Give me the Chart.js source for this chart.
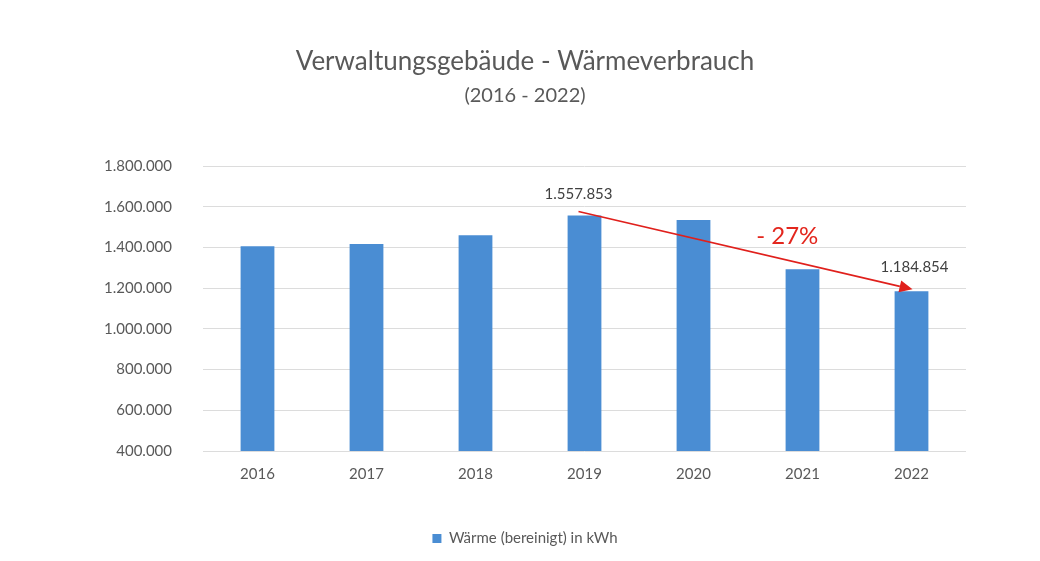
<!DOCTYPE html>
<html>
<head>
<meta charset="utf-8">
<script src="https://cdn.jsdelivr.net/npm/chart.js@4.4.1/dist/chart.umd.min.js"></script>
<style>
  html, body { margin: 0; padding: 0; background: #ffffff; }
  #wrap { width: 1040px; height: 561px; }
</style>
</head>
<body>
<div id="wrap"><canvas id="waermeChart" width="1040" height="561"></canvas></div>
<script>
const years = ['2016', '2017', '2018', '2019', '2020', '2021', '2022'];
const waerme = [1407000, 1417000, 1461000, 1557853, 1535000, 1294000, 1184854];
const yTicks = [400000, 600000, 800000, 1000000, 1200000, 1400000, 1600000, 1800000];
const seriesLabel = 'Wärme (bereinigt) in kWh';
const titleText = 'Verwaltungsgebäude - Wärmeverbrauch';
const subtitleText = '(2016 - 2022)';
const changeText = '- 27%';

const fontFamily = 'Lato, "Open Sans", sans-serif';
const textGray = '#595959';

// German number format: 1.557.853
function fmt(v) {
    return String(Math.round(v)).replace(/\B(?=(\d{3})+(?!\d))/g, '.');
}

// draws the two value labels, the red trend arrow and the percentage
const trendPlugin = {
    id: 'trend',
    afterDatasetsDraw(chart) {
        const c = chart.ctx;
        const x = chart.scales.x, y = chart.scales.y;
        const i1 = 3, i2 = 6;
        const step = x.getPixelForValue(1) - x.getPixelForValue(0);

        c.save();
        c.font = '15px ' + fontFamily;
        c.fillStyle = '#404040';
        c.textAlign = 'center';
        c.textBaseline = 'middle';
        c.fillText(fmt(waerme[i1]), x.getPixelForValue(i1) - 6, y.getPixelForValue(waerme[i1]) - 21);
        c.fillText(fmt(waerme[i2]), x.getPixelForValue(i2) + 3, y.getPixelForValue(waerme[i2]) - 24);

        // arrow
        const x1 = x.getPixelForValue(i1) - 6, y1 = y.getPixelForValue(waerme[i1]) - 4;
        const x2 = x.getPixelForValue(i2) + 1, y2 = y.getPixelForValue(waerme[i2]) - 2;
        const ang = Math.atan2(y2 - y1, x2 - x1);
        const head = 13, half = 6;
        c.strokeStyle = '#e0201c';
        c.fillStyle = '#e0201c';
        c.lineWidth = 1.6;
        c.beginPath();
        c.moveTo(x1, y1);
        c.lineTo(x2 - head * Math.cos(ang), y2 - head * Math.sin(ang));
        c.stroke();
        c.beginPath();
        c.moveTo(x2, y2);
        c.lineTo(x2 - head * Math.cos(ang) + half * Math.sin(ang), y2 - head * Math.sin(ang) - half * Math.cos(ang));
        c.lineTo(x2 - head * Math.cos(ang) - half * Math.sin(ang), y2 - head * Math.sin(ang) + half * Math.cos(ang));
        c.closePath();
        c.fill();

        // percentage
        c.font = '24px ' + fontFamily;
        c.fillStyle = '#e3261d';
        c.fillText(changeText, x.getPixelForValue(4) + 0.86 * step, y.getPixelForValue(1456000));
        c.restore();
    }
};

const ctx = document.getElementById('waermeChart').getContext('2d');

let waermeChart = new Chart(ctx, {
    type: 'bar',
    data: {
        labels: years,
        datasets: [
            {
                label: seriesLabel,
                data: waerme,
                backgroundColor: '#4a8dd3',
                borderWidth: 0,
                categoryPercentage: 1,
                barPercentage: 0.31
            }
        ]
    },
    options: {
        responsive: false,
        animation: false,
        layout: { padding: { left: 84, right: 74, top: 0, bottom: 5 } },
        scales: {
            x: {
                grid: { display: false, drawTicks: false },
                border: { display: false },
                ticks: { color: textGray, font: { family: fontFamily, size: 15 }, padding: 14 },
                afterFit(scale) { scale.height = 70; }
            },
            y: {
                min: 400000,
                max: 1800000,
                afterBuildTicks(scale) { scale.ticks = yTicks.map(v => ({ value: v })); },
                grid: { color: '#dcdcdc', drawTicks: false, lineWidth: 1 },
                border: { display: false },
                ticks: {
                    color: textGray,
                    font: { family: fontFamily, size: 15 },
                    padding: 31,
                    callback: v => fmt(v)
                },
                afterFit(scale) { scale.width = 119; }
            }
        },
        plugins: {
            title: {
                display: true,
                text: titleText,
                color: textGray,
                font: { family: fontFamily, size: 26, weight: 'normal' },
                padding: { top: 46, bottom: 0 }
            },
            subtitle: {
                display: true,
                text: subtitleText,
                color: textGray,
                font: { family: fontFamily, size: 20, weight: 'normal' },
                padding: { top: 6, bottom: 59 }
            },
            legend: {
                position: 'bottom',
                labels: {
                    color: textGray,
                    font: { family: fontFamily, size: 15 },
                    boxWidth: 9,
                    boxHeight: 9,
                    padding: 10
                }
            },
            tooltip: { enabled: false }
        }
    },
    plugins: [trendPlugin]
});
</script>
</body>
</html>
